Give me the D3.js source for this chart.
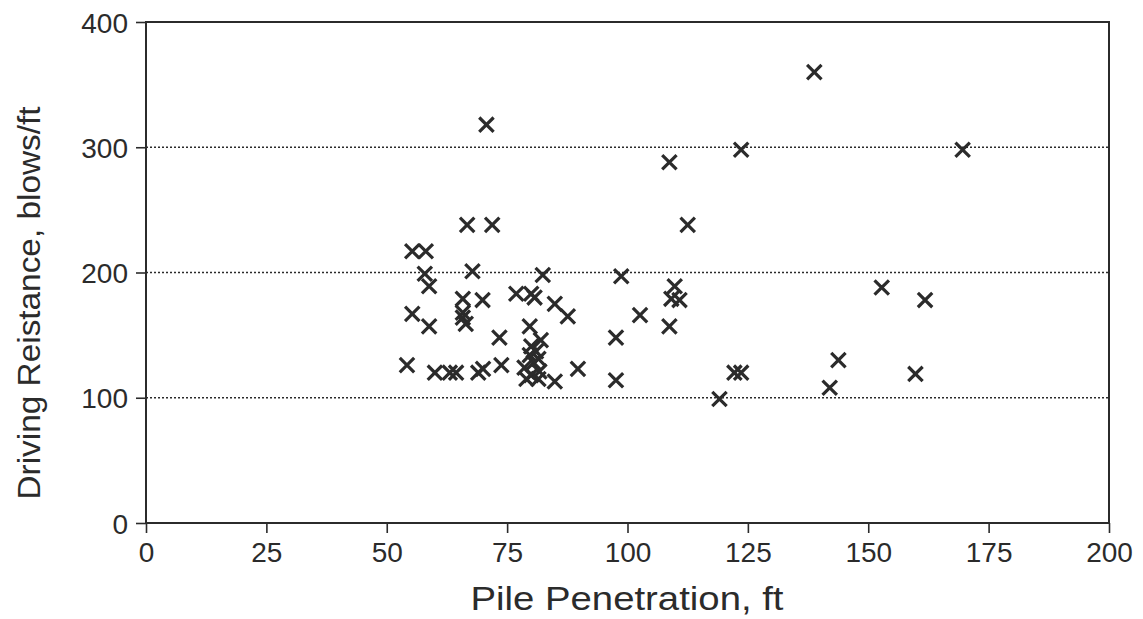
<!DOCTYPE html>
<html>
<head>
<meta charset="utf-8">
<script src="https://cdn.jsdelivr.net/npm/d3@7"></script>
<style>
  html, body { margin: 0; padding: 0; background: #fff; }
  svg text { font-family: "Liberation Sans", Arial, Helvetica, sans-serif; fill: #2b2b2b; }
</style>
</head>
<body>
<svg id="chart" width="1143" height="619"></svg>
<script>
// Data: pile penetration (ft) vs driving resistance (blows/ft)
const penetration = [54.2, 55.3, 55.3, 58.1, 57.9, 58.8, 58.8, 60, 63.1, 64.4,
  66.7, 65.8, 65.8, 65.8, 66.4, 67.8, 69, 70, 69.9, 70.7,
  71.9, 73.4, 73.8, 76.9, 80, 80.7, 79.7, 82.4, 84.9, 87.6,
  82, 80, 81, 79.7, 81.5, 80.5, 78.6, 81.7, 80, 79, 81.5,
  89.7, 84.9,
  97.6, 97.6, 98.7, 102.6, 108.7, 108.7, 109.8, 109.1, 110.8, 112.5,
  119.1, 122.2, 123.6, 123.6, 138.8, 142, 143.8, 152.8, 159.8, 161.8, 169.6];
const resistance = [126, 217, 167, 217, 199, 189, 157, 120, 120, 120,
  238, 179, 168, 164, 159, 201, 120, 123, 178, 318,
  238, 148, 126, 183, 183, 180, 157, 198, 175, 165,
  146, 141, 137, 134, 131, 128, 124, 121, 118, 115, 115,
  123, 113,
  148, 114, 197, 166, 157, 288, 189, 179, 178, 238,
  99, 120, 120, 298, 360, 108, 130, 188, 119, 178, 298];
const xTicks = [0, 25, 50, 75, 100, 125, 150, 175, 200];
const yTicks = [0, 100, 200, 300, 400];
const gridValues = [100, 200, 300];
const xLabel = "Pile Penetration, ft";
const yLabel = "Driving Reistance, blows/ft";

const ink = "#2b2b2b";
const svg = d3.select("#chart");
const mLeft = 146, mRight = 1109, mTop = 22, mBottom = 523;

const x = d3.scaleLinear().domain([0, 200]).range([mLeft, mRight]);
const y = d3.scaleLinear().domain([0, 400]).range([mBottom, mTop]);

// gridlines
svg.append("g").selectAll("line").data(gridValues).join("line")
  .attr("x1", mLeft).attr("x2", mRight)
  .attr("y1", d => y(d)).attr("y2", d => y(d))
  .attr("stroke", ink).attr("stroke-width", 1.6)
  .attr("stroke-dasharray", "2,2");

// frame
svg.append("rect")
  .attr("x", mLeft).attr("y", mTop)
  .attr("width", mRight - mLeft).attr("height", mBottom - mTop)
  .attr("fill", "none").attr("stroke", ink).attr("stroke-width", 2);

// axes
const xAxis = svg.append("g").attr("transform", `translate(0,${mBottom})`)
  .call(d3.axisBottom(x).tickValues(xTicks).tickSize(10).tickPadding(8).tickFormat(d3.format("d")));
const yAxis = svg.append("g").attr("transform", `translate(${mLeft},0)`)
  .call(d3.axisLeft(y).tickValues(yTicks).tickSize(10).tickPadding(8).tickFormat(d3.format("d")));
[xAxis, yAxis].forEach(a => {
  a.select(".domain").remove();
  a.selectAll(".tick line").attr("stroke", ink).attr("stroke-width", 1.6);
  a.selectAll(".tick text").attr("fill", ink).style("font-size", "28px")
    .attr("font-family", "Liberation Sans, Arial, sans-serif");
});
xAxis.selectAll(".tick text").attr("dy", "0.74em");
yAxis.selectAll(".tick text").attr("dy", "0.36em");

// markers (X)
const s = 7.2;
const pts = penetration.map((p, i) => [p, resistance[i]]);
svg.append("g").selectAll("path").data(pts).join("path")
  .attr("transform", d => `translate(${x(d[0])},${y(d[1])})`)
  .attr("d", `M${-s},${-s}L${s},${s}M${-s},${s}L${s},${-s}`)
  .attr("stroke", ink).attr("stroke-width", 3.2).attr("fill", "none");

// titles
svg.append("text")
  .attr("x", 627).attr("y", 610)
  .attr("text-anchor", "middle")
  .style("font-size", "33px")
  .attr("textLength", 313).attr("lengthAdjust", "spacingAndGlyphs")
  .text(xLabel);
svg.append("text")
  .attr("transform", "translate(40,303) rotate(-90)")
  .attr("text-anchor", "middle")
  .style("font-size", "32px")
  .attr("textLength", 393).attr("lengthAdjust", "spacingAndGlyphs")
  .text(yLabel);
</script>
</body>
</html>
